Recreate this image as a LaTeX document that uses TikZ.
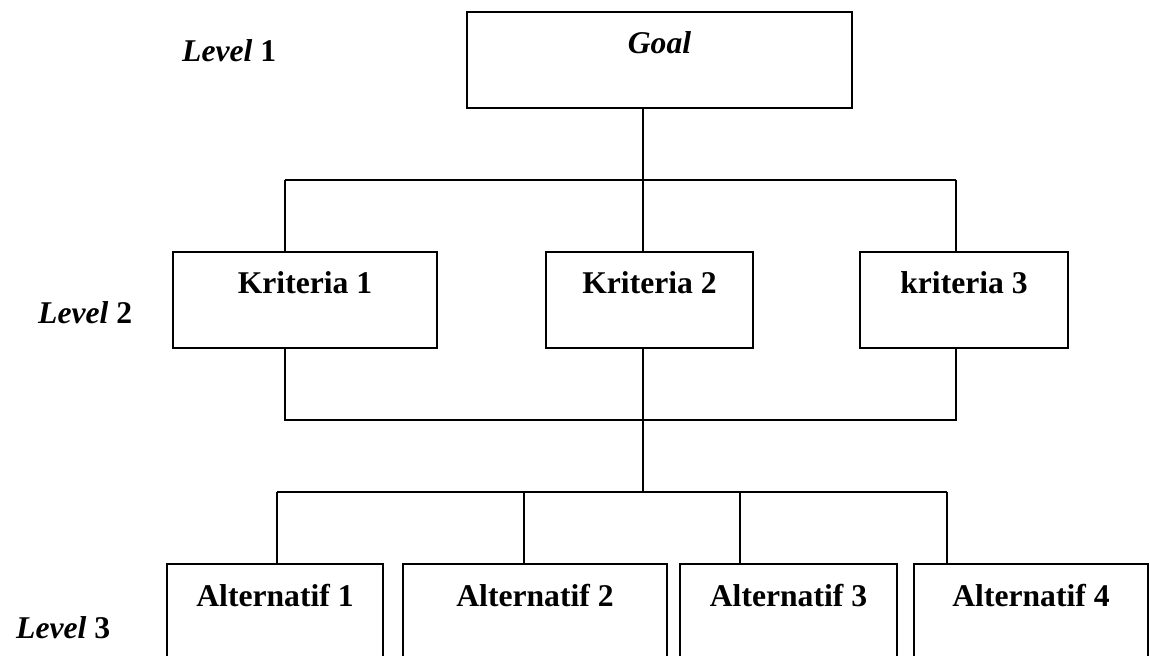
\documentclass[tikz,border=0pt]{standalone}
\usepackage{fontspec}
\setmainfont{Liberation Serif}
\usetikzlibrary{positioning}

\begin{document}
\begin{tikzpicture}[font=\bfseries\fontsize{18}{21}\selectfont,
    box/.style={draw,line width=1.1pt,inner sep=0pt,minimum height=1.92cm,text height=0.5cm,text depth=0.74cm},
    link/.style={line width=0.8pt}]
	  \useasboundingbox (0,0) rectangle (23,13.1);
	  \clip (0,0) rectangle (23,13.1);

	  \node[box,minimum width=7.70cm] (g) at (13.19,11.90) {\itshape Goal};

	  \node[box,minimum width=5.28cm] (k1) at (6.10,7.10) {Kriteria 1};
	  \node[box,minimum width=4.14cm] (k2) at (12.99,7.10) {Kriteria 2};
	  \node[box,minimum width=4.16cm] (k3) at (19.28,7.10) {kriteria 3};

	  \node[box,minimum width=4.32cm] (a1) at (5.50,0.86) {Alternatif 1};
	  \node[box,minimum width=5.28cm] (a2) at (10.70,0.86) {Alternatif 2};
	  \node[box,minimum width=4.34cm] (a3) at (15.77,0.86) {Alternatif 3};
	  \node[box,minimum width=4.68cm] (a4) at (20.62,0.86) {Alternatif 4};

      \node[anchor=base west] (L1) at (3.52,11.86) {\textit{Level} 1};
      \node[anchor=base west] (L2) at (0.64,6.62) {\textit{Level} 2};
      \node[anchor=base west] (L3) at (0.20,0.34) {\textit{Level} 3};

      % goal to criteria
      \coordinate (t1) at (5.70,9.50);
      \coordinate (t2) at (12.86,9.50);
      \coordinate (t3) at (19.12,9.50);
      \draw[link] (g.south -| t2) -- (t2);
      \draw[link] (t1) -- (t3);
      \draw[link] (t1) -- (k1.north -| t1);
      \draw[link] (t2) -- (k2.north -| t2);
      \draw[link] (t3) -- (k3.north -| t3);

      % criteria to alternatives
      \coordinate (m1) at (5.70,4.70);
      \coordinate (m3) at (19.12,4.70);
      \coordinate (b1) at (5.54,3.26);
      \coordinate (b2) at (10.48,3.26);
      \coordinate (b3) at (14.80,3.26);
      \coordinate (b4) at (18.94,3.26);
      \coordinate (bm) at (12.86,3.26);
      \draw[link] (k1.south -| m1) -- (m1) -- (m3) -- (k3.south -| m3);
      \draw[link] (k2.south -| bm) -- (bm);
      \draw[link] (b1) -- (b4);
      \draw[link] (b1) -- (a1.north -| b1);
      \draw[link] (b2) -- (a2.north -| b2);
      \draw[link] (b3) -- (a3.north -| b3);
      \draw[link] (b4) -- (a4.north -| b4);
\end{tikzpicture}
\end{document}
